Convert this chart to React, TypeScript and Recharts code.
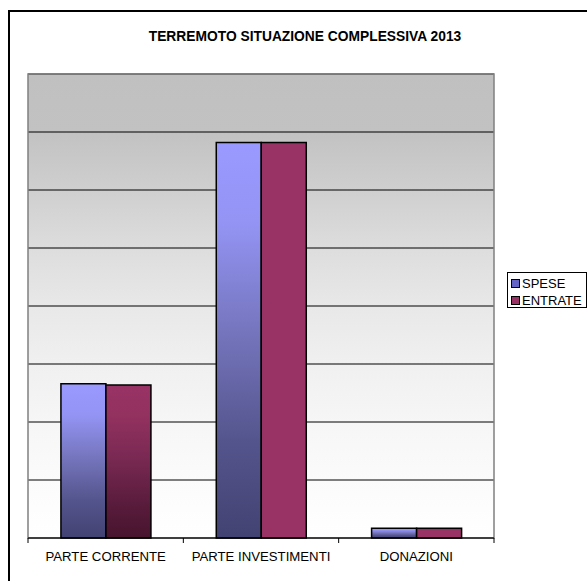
import React from "react";
import { BarChart, Bar, XAxis, YAxis, CartesianGrid, ReferenceArea, Cell } from "recharts";

const categories = ["PARTE CORRENTE", "PARTE INVESTIMENTI", "DONAZIONI"];
const speseValues = [2.66, 6.82, 0.17];
const entrateValues = [2.64, 6.82, 0.17];
const seriesNames = ["SPESE", "ENTRATE"];
const yTicks = [1, 2, 3, 4, 5, 6, 7];
const yDomain = [0, 8];
const title = "TERREMOTO SITUAZIONE COMPLESSIVA 2013";

const speseFills = ["url(#speseGrad)", "url(#speseGrad)", "url(#speseGrad)"];
const entrateFills = ["url(#entrateGrad)", "#993366", "#993366"];
const legendColors = ["#6363c6", "#993366"];

const data = categories.map((c, i) => ({
  cat: c,
  spese: speseValues[i],
  entrate: entrateValues[i],
}));

const W = 587;
const H = 581;
const M = { top: 74, left: 28, right: 93, bottom: 13 };
const BAND = (W - M.left - M.right) / categories.length;
const FONT = "Arial, 'Liberation Sans', sans-serif";

const AxisTick = (props: any) => {
  const { x, y, payload, index } = props;
  const off = payload && typeof payload.offset === "number" && payload.offset > 0 ? payload.offset : BAND / 2;
  return (
    <g>
      <line x1={x - off} x2={x - off} y1={y} y2={y + 5} stroke="#000" strokeWidth={1} />
      {index === categories.length - 1 && (
        <line x1={x + off} x2={x + off} y1={y} y2={y + 5} stroke="#000" strokeWidth={1} />
      )}
      <text x={x} y={y + 23} textAnchor="middle" fontSize={13.2} fontFamily={FONT} fill="#000">
        {payload.value}
      </text>
    </g>
  );
};

export default function App() {
  return (
    <div style={{ position: "absolute", left: 0, top: 0, width: W, height: H, overflow: "hidden", background: "#fff" }}>
      <div
        style={{
          position: "absolute",
          left: 8,
          top: 10,
          width: 700,
          height: 700,
          border: "2px solid #000",
          boxSizing: "border-box",
        }}
      />
      <div
        style={{
          position: "absolute",
          left: 105,
          top: 29,
          width: 400,
          textAlign: "center",
          fontFamily: FONT,
          fontWeight: "bold",
          fontSize: 13.8,
          lineHeight: "16px",
          color: "#000",
        }}
      >
        {title}
      </div>
      <div style={{ position: "absolute", left: 0, top: 0 }}>
        <BarChart
          width={W}
          height={H}
          data={data}
          margin={M}
          barCategoryGap="21.2%"
          barGap={0}
        >
          <defs>
            <linearGradient id="bgGrad" x1="0" y1="0" x2="0" y2="1">
              <stop offset="0" stopColor="#c0c0c0" />
              <stop offset="0.125" stopColor="#c2c2c2" />
              <stop offset="0.25" stopColor="#cfcfcf" />
              <stop offset="0.375" stopColor="#dddddd" />
              <stop offset="0.5" stopColor="#e8e8e8" />
              <stop offset="0.625" stopColor="#f0f0f0" />
              <stop offset="0.75" stopColor="#f6f6f6" />
              <stop offset="0.875" stopColor="#fbfbfb" />
              <stop offset="1" stopColor="#ffffff" />
            </linearGradient>
            <linearGradient id="speseGrad" x1="0" y1="0" x2="0" y2="1">
              <stop offset="0" stopColor="#9999ff" />
              <stop offset="0.2" stopColor="#9494f5" />
              <stop offset="0.47" stopColor="#7676bf" />
              <stop offset="0.75" stopColor="#55558e" />
              <stop offset="1" stopColor="#424272" />
            </linearGradient>
            <linearGradient id="entrateGrad" x1="0" y1="0" x2="0" y2="1">
              <stop offset="0" stopColor="#993366" />
              <stop offset="0.2" stopColor="#93315f" />
              <stop offset="0.45" stopColor="#7c2a55" />
              <stop offset="0.77" stopColor="#5a1c3c" />
              <stop offset="1" stopColor="#47142e" />
            </linearGradient>
          </defs>
          <CartesianGrid vertical={false} stroke="#000" strokeWidth={1} fill="url(#bgGrad)" fillOpacity={1} />
          <ReferenceArea y1={yDomain[0]} y2={yDomain[1]} fill="none" stroke="#808080" strokeWidth={1.5} ifOverflow="visible" />
          <YAxis hide domain={yDomain} ticks={yTicks} type="number" />
          <XAxis
            dataKey="cat"
            axisLine={{ stroke: "#000", strokeWidth: 1 }}
            tickLine={false}
            tickSize={0}
            tickMargin={0}
            height={30}
            interval={0}
            tick={<AxisTick />}
          />
          <Bar dataKey="spese" name={seriesNames[0]} stroke="#000" strokeWidth={1.5} isAnimationActive={false}>
            {data.map((d, i) => (
              <Cell key={"s" + i} fill={speseFills[i]} />
            ))}
          </Bar>
          <Bar dataKey="entrate" name={seriesNames[1]} stroke="#000" strokeWidth={1.5} isAnimationActive={false}>
            {data.map((d, i) => (
              <Cell key={"e" + i} fill={entrateFills[i]} />
            ))}
          </Bar>
        </BarChart>
      </div>
      <div
        style={{
          position: "absolute",
          left: 507,
          top: 272,
          width: 80,
          height: 36,
          border: "1px solid #000",
          boxSizing: "border-box",
          background: "#fff",
          fontFamily: FONT,
          fontSize: 13,
          color: "#000",
        }}
      >
        {seriesNames.map((n, i) => (
          <div key={n} style={{ position: "absolute", left: 3, top: 3 + i * 17, height: 15, display: "flex", alignItems: "center" }}>
            <span
              style={{
                display: "inline-block",
                width: 7,
                height: 7,
                background: legendColors[i],
                border: "1px solid #000",
                marginRight: 2,
              }}
            />
            <span style={{ lineHeight: "15px" }}>{n}</span>
          </div>
        ))}
      </div>
    </div>
  );
}
